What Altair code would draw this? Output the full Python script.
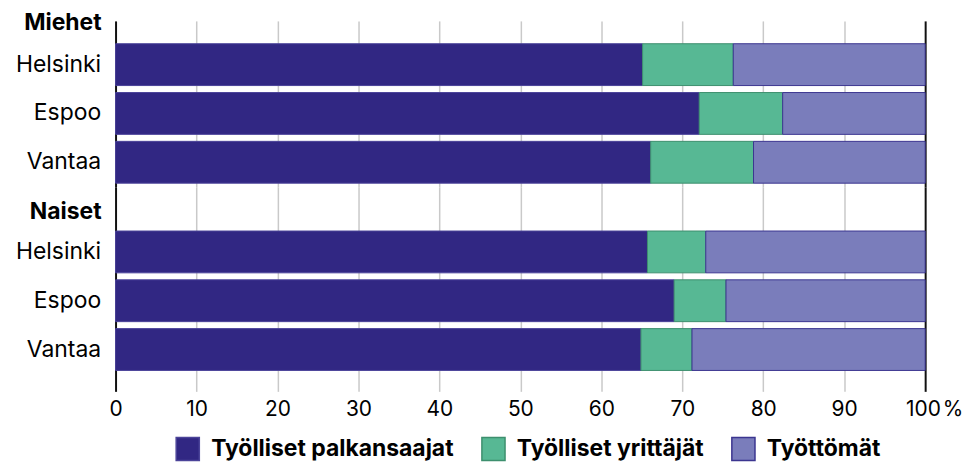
import altair as alt
import pandas as pd

cities = ["Helsinki", "Espoo", "Vantaa"]
categories = ["Työlliset palkansaajat", "Työlliset yrittäjät", "Työttömät"]
fill_colors = ["#312783", "#57b894", "#7a7dbb"]
stroke_colors = ["#4b4399", "#3d8f6e", "#3b3590"]

men_palkansaajat = [65.1, 72.1, 66.1]
men_yrittajat = [11.2, 10.3, 12.7]
men_tyottomat = [23.7, 17.6, 21.2]

women_palkansaajat = [65.7, 69.0, 64.9]
women_yrittajat = [7.2, 6.4, 6.3]
women_tyottomat = [27.1, 24.6, 28.8]

x_ticks = [0, 10, 20, 30, 40, 50, 60, 70, 80, 90, 100]
FONT = "Inter"


def make_df(series):
    rows = []
    for k, (cat, vals) in enumerate(zip(categories, series)):
        for city, v in zip(cities, vals):
            rows.append({"city": city, "cat": cat, "k": k, "v": v})
    return pd.DataFrame(rows)


df_men = make_df([men_palkansaajat, men_yrittajat, men_tyottomat])
df_women = make_df([women_palkansaajat, women_yrittajat, women_tyottomat])

grid_color = {"expr": "datum.value == 0 || datum.value == 100 ? '#111111' : '#c9c9c9'"}
grid_width = {"expr": "datum.value == 0 || datum.value == 100 ? 2 : 1.5"}

legend = alt.Legend(
    title=None,
    orient="none",
    direction="horizontal",
    legendX=60,
    legendY=417,
    symbolType="square",
    symbolSize=540,
    symbolStrokeWidth=1.5,
    labelFont=FONT,
    labelFontWeight="bold",
    labelFontSize=23,
    labelColor="black",
    labelOffset=11,
    labelLimit=0,
    columnPadding=24,
    symbolOpacity=1,
)


def panel(df, header, height, pad_outer, align, header_y, bottom):
    if bottom:
        xaxis = alt.Axis(
            values=x_ticks,
            title=None,
            ticks=False,
            domain=False,
            labelFlush=False,
            labelPadding=7,
            labelFont=FONT,
            labelFontSize=21,
            labelColor="black",
            labelExpr="datum.value == 100 ? '100\u200a%' : datum.label",
            labelOffset={"expr": "datum.value == 100 ? 9 : 0"},
            gridColor=grid_color,
            gridWidth=grid_width,
        )
    else:
        xaxis = alt.Axis(
            values=x_ticks,
            title=None,
            ticks=False,
            domain=False,
            labels=False,
            gridColor=grid_color,
            gridWidth=grid_width,
        )
    bars = alt.Chart(df).mark_bar(strokeWidth=1).encode(
        x=alt.X("v:Q", stack="zero", scale=alt.Scale(domain=[0, 100], nice=False), axis=xaxis),
        y=alt.Y(
            "city:N",
            sort=cities,
            scale=alt.Scale(paddingInner=0.143, paddingOuter=pad_outer, align=align),
            axis=alt.Axis(
                title=None,
                ticks=False,
                domain=False,
                grid=False,
                labelPadding=15,
                labelFont=FONT,
                labelFontSize=23,
                labelColor="black",
            ),
        ),
        fill=alt.Fill("cat:N", scale=alt.Scale(domain=categories, range=fill_colors), legend=legend),
        stroke=alt.Stroke("cat:N", scale=alt.Scale(domain=categories, range=stroke_colors), legend=legend),
        order=alt.Order("k:Q", sort="ascending"),
    )
    head = alt.Chart(pd.DataFrame({"h": [header]})).mark_text(
        align="right", baseline="middle", font=FONT, fontSize=23, fontWeight="bold", color="black"
    ).encode(text="h:N", x=alt.value(-14), y=alt.value(header_y))
    return alt.layer(bars, head).properties(width=813, height=height)


top = panel(df_men, "Miehet", 167, 0.275, 0.85, 2, False)
bot = panel(df_women, "Naiset", 205, 0.663, 0.677, 25, True)

chart = (
    alt.vconcat(top, bot, spacing=0)
    .resolve_scale(y="independent", fill="shared", stroke="shared")
    .properties(padding={"left": 7, "top": 3, "right": 0, "bottom": 0})
    .configure_view(stroke=None)
)

chart.save("out.html", embed_options={"renderer": "svg", "actions": False})
